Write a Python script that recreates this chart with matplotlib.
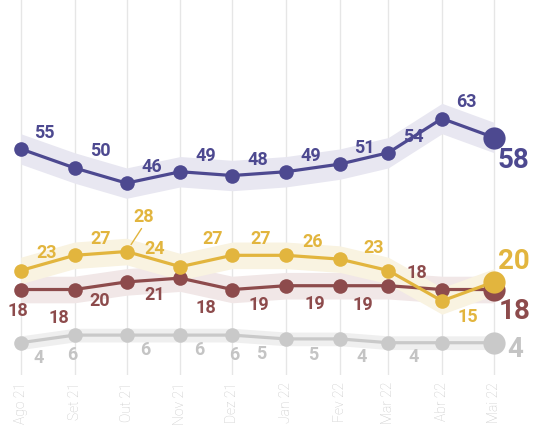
import numpy as np
import matplotlib
matplotlib.use("Agg")
import matplotlib.pyplot as plt
import matplotlib.dates as mdates
from datetime import datetime

# dados
meses = [datetime(2021, 8, 1), datetime(2021, 9, 1), datetime(2021, 10, 1),
         datetime(2021, 11, 1), datetime(2021, 12, 1), datetime(2022, 1, 1),
         datetime(2022, 2, 1), datetime(2022, 3, 1), datetime(2022, 4, 1),
         datetime(2022, 5, 1)]
rotulos_meses = ["Ago 21", "Set 21", "Out 21", "Nov 21", "Dez 21",
                 "Jan 22", "Fev 22", "Mar 22", "Abr 22", "Mai 22"]

roxo = [55, 50, 46, 49, 48, 49, 51, 54, 63, 58]
amarelo = [23, 27, 28, 24, 27, 27, 26, 23, 15, 20]
vermelho = [18, 18, 20, 21, 18, 19, 19, 19, 18, 18]
cinza = [4, 6, 6, 6, 6, 5, 5, 4, 4, 4]

# margem da faixa sombreada
margem_roxo = 4
margem_amarelo = 3.5
margem_vermelho = 3.5
margem_cinza = 1.8

# posicao dos rotulos (deslocamento em pixels: dx, dy para cima)
desl_roxo = [(24, 16), (26, 17), (25, 16), (26, 16), (26, 16), (25, 16),
             (25, 16), (25, 16), (24, 17), (19, -23)]
desl_amarelo = [(26, 18), (26, 16), (17, 35), (-26, 18), (-20, 16), (-25, 16),
                (-27, 17), (-15, 23), (26, -16), (20, 20)]
desl_vermelho = [(-3, -21), (-16, -28), (-27, -19), (-26, -17), (-26, -18),
                 (-27, -19), (-25, -18), (-25, -19), (-25, 17), (21, -22)]
desl_cinza = [(18, -15), (-2, -20), (19, -15), (19, -15), (2, -20),
              (-25, -15), (-27, -16), (-27, -14), (-28, -14), (21, -7)]

cor_roxo = "#4d4990"
cor_amarelo = "#e2b53e"
cor_vermelho = "#8d4b4c"
cor_cinza = "#c9c9c9"

plt.rcParams['font.family'] = ['Roboto', 'DejaVu Sans']

fig = plt.figure(figsize=(5.33, 4.26), dpi=100)
ax = fig.add_axes([0, 1 - 375 / 426, 1, 375 / 426])

px = 72 / 100  # pixel -> pontos


def desenha(valores, margem, cor, cor_faixa, desl, cor_txt):
    v = np.array(valores, dtype=float)
    ax.fill_between(meses, v - margem, v + margem, color=cor_faixa, lw=0, zorder=1)
    ax.plot(meses, v, color=cor, lw=2.3, zorder=2)
    ax.plot(meses[:-1], v[:-1], 'o', color=cor, ms=10.5, mec='none', zorder=3)
    ax.plot(meses[-1:], v[-1:], 'o', color=cor, ms=16, mec='none', zorder=3)
    for i, (x, y) in enumerate(zip(meses, valores)):
        grande = i == len(valores) - 1
        ax.annotate(str(y), (x, y), xytext=(desl[i][0] * px, desl[i][1] * px),
                    textcoords='offset points', ha='center', va='center',
                    fontsize=20 if grande else 13, fontweight='bold',
                    color=cor_txt, zorder=5)


desenha(cinza, margem_cinza, cor_cinza, "#efefef", desl_cinza, "#c4c4c4")
desenha(vermelho, margem_vermelho, cor_vermelho, "#f1e7e7", desl_vermelho, cor_vermelho)
desenha(amarelo, margem_amarelo, cor_amarelo, "#f9f3e1", desl_amarelo, cor_amarelo)
desenha(roxo, margem_roxo, cor_roxo, "#e8e7f1", desl_roxo, cor_roxo)

# linha guia do rotulo 28
ax.annotate("", xy=(meses[2], amarelo[2]), xytext=(15 * px, 23 * px),
            textcoords='offset points',
            arrowprops=dict(arrowstyle='-', color=cor_amarelo, lw=1,
                            shrinkA=0, shrinkB=6))

ax.set_xlim(datetime(2021, 7, 20), datetime(2022, 5, 23, 12))
ax.set_ylim(-4.5, 94.2)
ax.set_xticks(meses)
ax.set_xticklabels(rotulos_meses, rotation=90, color="#c8c8c8",
                   fontsize=10, fontweight='light')
ax.tick_params(axis='x', length=0, pad=5)
ax.set_yticks([])
ax.grid(axis='x', color="#e6e6e6", lw=1, zorder=0)
ax.set_axisbelow(True)
for s in ax.spines.values():
    s.set_visible(False)

fig.savefig("out.png", dpi=100)
